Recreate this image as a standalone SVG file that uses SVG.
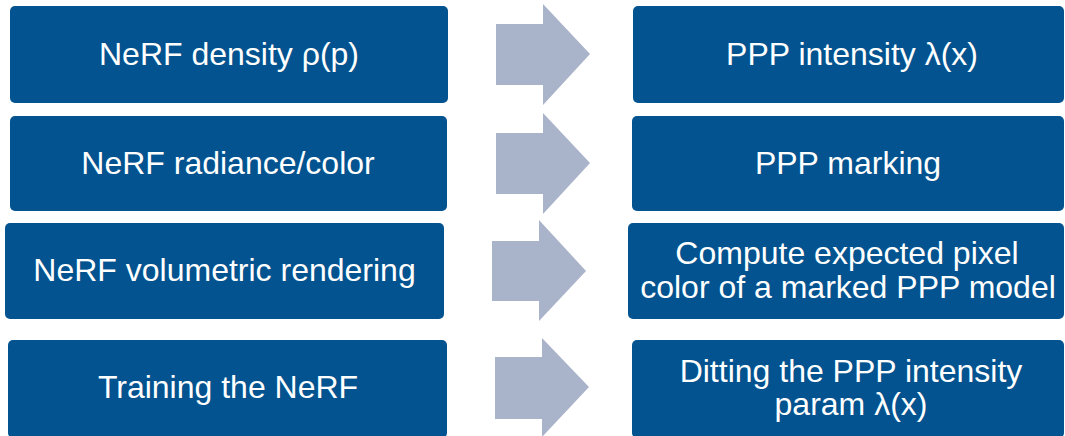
<svg xmlns="http://www.w3.org/2000/svg" width="1065" height="436" viewBox="0 0 1065 436">
  <defs>
    <style>
      .box { fill: #02538F; }
      .arrow { fill: #A9B3C9; }
      .label { font-family: "Liberation Sans", Arial, sans-serif; font-size: 32px; fill: #FFFFFF; text-anchor: middle; }
    </style>
  </defs>
  <rect width="1065" height="436" fill="#FFFFFF"/>

  <!-- NeRF side -->
  <g id="nerf-density">
    <rect class="box" x="10" y="6" width="438" height="97" rx="5"/>
    <text class="label" x="229" y="65">NeRF density ρ(p)</text>
  </g>
  <g id="nerf-radiance">
    <rect class="box" x="10" y="116" width="437" height="95" rx="5"/>
    <text class="label" x="228" y="174">NeRF radiance/color</text>
  </g>
  <g id="nerf-rendering">
    <rect class="box" x="5" y="223" width="439" height="96" rx="5"/>
    <text class="label" x="224.5" y="281">NeRF volumetric rendering</text>
  </g>
  <g id="nerf-training">
    <rect class="box" x="8" y="340" width="439" height="98" rx="5"/>
    <text class="label" x="228" y="398">Training the NeRF</text>
  </g>

  <!-- PPP side -->
  <g id="ppp-intensity">
    <rect class="box" x="633" y="6" width="431" height="97" rx="5"/>
    <text class="label" x="852" y="65">PPP intensity λ(x)</text>
  </g>
  <g id="ppp-marking">
    <rect class="box" x="632" y="116" width="432" height="95" rx="5"/>
    <text class="label" x="848" y="174">PPP marking</text>
  </g>
  <g id="ppp-expected-color">
    <rect class="box" x="628" y="223" width="436" height="96" rx="5"/>
    <text class="label" x="847" y="264">Compute expected pixel</text>
    <text class="label" x="848" y="298">color of a marked PPP model</text>
  </g>
  <g id="ppp-fitting">
    <rect class="box" x="632" y="340" width="432" height="98" rx="5"/>
    <text class="label" x="851" y="382">Ditting the PPP intensity</text>
    <text class="label" x="851" y="415">param λ(x)</text>
  </g>

  <!-- Correspondence arrows -->
  <g id="connectors">
    <polygon class="arrow" points="496,24 543,24 543,4 590,54 543,105 543,85 496,85"/>
    <polygon class="arrow" points="496,133 543,133 543,113 590,163 543,214 543,194 496,194"/>
    <polygon class="arrow" points="492,241 539,241 539,220 586,271 539,321 539,301 492,301"/>
    <polygon class="arrow" points="495,357 542,357 542,338 589,387 542,437 542,419 495,419"/>
  </g>
</svg>
